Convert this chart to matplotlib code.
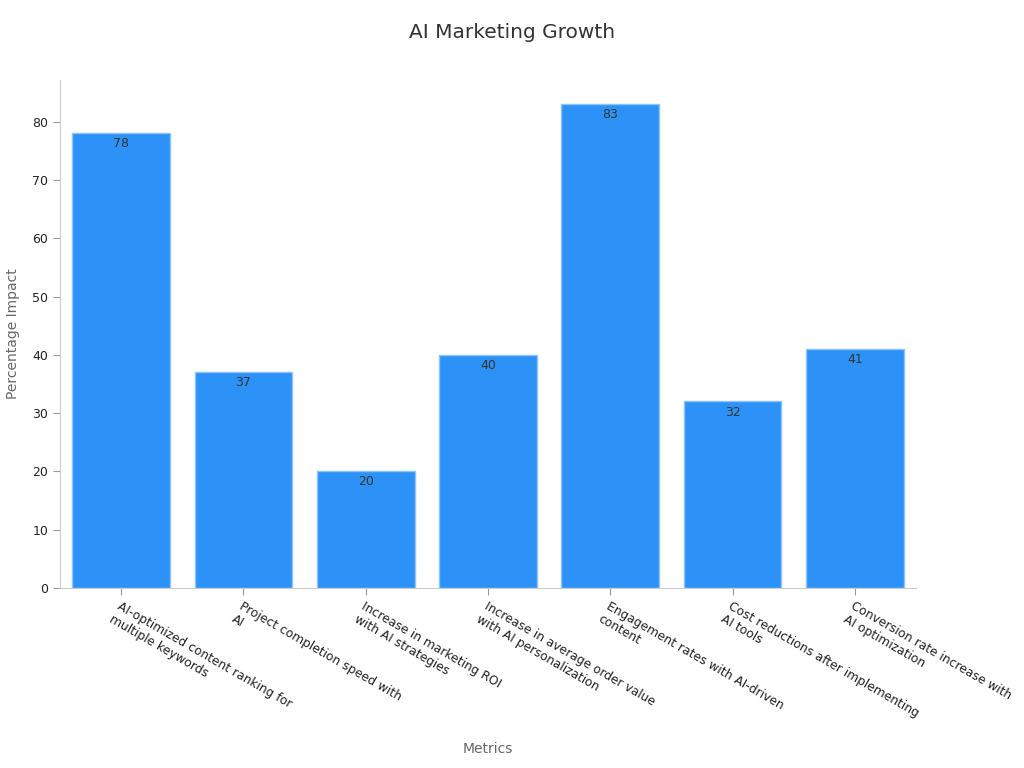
import numpy as np
import matplotlib.pyplot as plt

# === Data ===
categories = [
    "AI-optimized content ranking for\nmultiple keywords",
    "Project completion speed with\nAI",
    "Increase in marketing ROI\nwith AI strategies",
    "Increase in average order value\nwith AI personalization",
    "Engagement rates with AI-driven\ncontent",
    "Cost reductions after implementing\nAI tools",
    "Conversion rate increase with\nAI optimization",
]
values = [78, 37, 20, 40, 83, 32, 41]

BAR_COLOR = "#2d92f7"
EDGE_COLOR = "#8cc4fb"
TEXT_COLOR = "#333333"
AXIS_COLOR = "#cccccc"

fig = plt.figure(figsize=(10.24, 7.68), dpi=100)
ax = fig.add_axes([60 / 1024, 1 - 588 / 768, (916 - 60) / 1024, (588 - 80) / 768])

x = np.arange(len(categories))
bars = ax.bar(x, values, width=0.8, color=BAR_COLOR, edgecolor=EDGE_COLOR, linewidth=1)

for rect, v in zip(bars, values):
    ax.text(rect.get_x() + rect.get_width() / 2, v - 0.7, str(v),
            ha="center", va="top", fontsize=9, color=TEXT_COLOR)

ax.set_xlim(-0.5, 6.5)
ax.set_ylim(0, 87.15)
ax.set_yticks(range(0, 81, 10))
ax.set_xticks(x)
ax.set_xticklabels(categories, rotation=-30, ha="left", va="top",
                   rotation_mode="anchor", fontsize=8.8, color="#222222")
ax.tick_params(axis="y", labelsize=9, colors="#222222")
ax.tick_params(axis="both", color="#999999", length=5)

for side in ["top", "right"]:
    ax.spines[side].set_visible(False)
for side in ["left", "bottom"]:
    ax.spines[side].set_color(AXIS_COLOR)

ax.set_xlabel("Metrics", fontsize=10, color="#666666")
ax.xaxis.set_label_coords(0.5, -0.304)
ax.set_ylabel("Percentage Impact", fontsize=10, color="#666666")
ax.yaxis.set_label_coords(-0.047, 0.5)

fig.suptitle("AI Marketing Growth", fontsize=14.5, color="#333333", y=1 - 33 / 768, va="center")

plt.savefig("out.png", dpi=100)
